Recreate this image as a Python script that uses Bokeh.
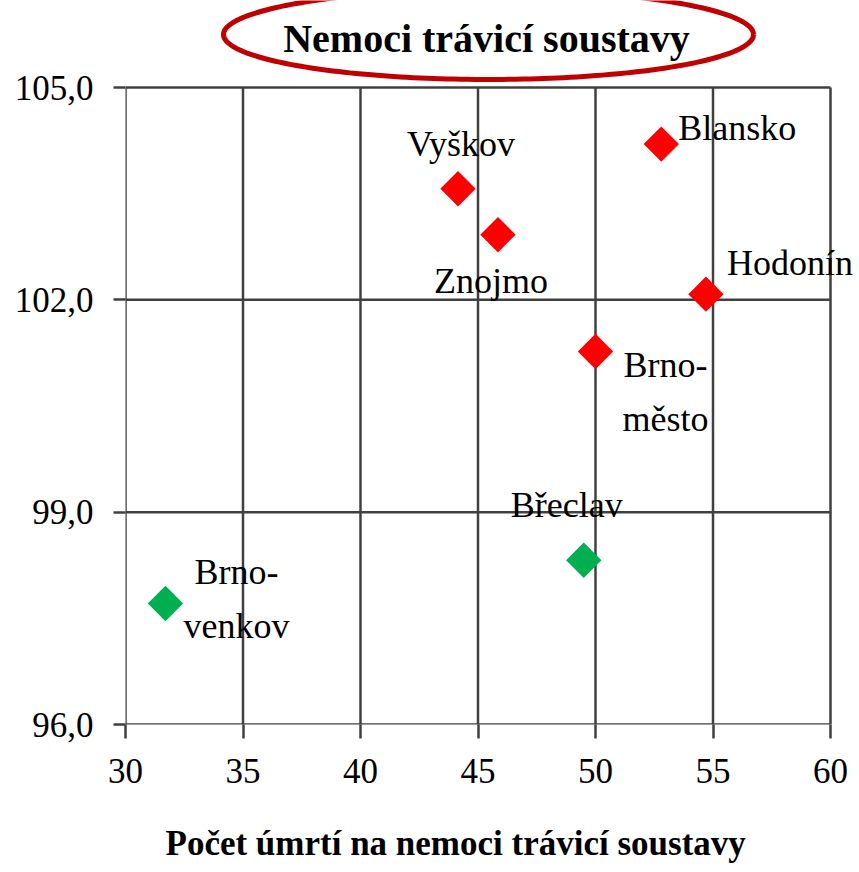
import math
from bokeh.plotting import figure
from bokeh.models import ColumnDataSource, FixedTicker, Range1d, Title
from bokeh.core.properties import value
from bokeh.transform import factor_cmap
from bokeh.embed import file_html
from bokeh.resources import INLINE

# ---- data ----
districts = ["Blansko", "Brno-\nměsto", "Brno-\nvenkov", "Břeclav", "Hodonín", "Vyškov", "Znojmo"]
deaths = [52.8, 50.0, 31.7, 49.5, 54.7, 44.15, 45.85]
index_vals = [104.2, 101.27, 97.71, 98.32, 102.08, 103.57, 102.92]
group = ["nad", "nad", "pod", "pod", "nad", "nad", "nad"]
x_ticks = [30, 35, 40, 45, 50, 55, 60]
y_ticks = [96, 99, 102, 105]
y_tick_labels = ["96,0", "99,0", "102,0", "105,0"]
title_text = "Nemoci trávicí soustavy"
x_title = "Počet úmrtí na nemoci trávicí soustavy"

# ---- layout / style ----
label_dx = {"Blansko": 76, "Brno-\nměsto": 70, "Brno-\nvenkov": 71, "Břeclav": -17,
            "Hodonín": 84, "Vyškov": 3, "Znojmo": -7}
label_dy = {"Blansko": -16, "Brno-\nměsto": 40, "Brno-\nvenkov": -4, "Břeclav": -55,
            "Hodonín": -31, "Vyškov": -45, "Znojmo": 46}
LINE_H = 54
SERIF = "Liberation Serif"
GRID = "#404040"
PLOT_W, PLOT_H = 705, 637          # visible plot box (30..60 x 96..105)
LEFT, TOP, RIGHT, BOTTOM = 125, 87, 27, 147   # canvas space around the box
X0, X1 = min(x_ticks), max(x_ticks)
Y0, Y1 = min(y_ticks), max(y_ticks)
sx = PLOT_W / (X1 - X0)
sy = PLOT_H / (Y1 - Y0)

def px_to_x(px):   # canvas px -> data x
    return X0 + (px - LEFT) / sx

def py_to_y(py):   # canvas py -> data y
    return Y0 + (TOP + PLOT_H - py) / sy

# label lines (each line centred separately)
lx, ly, ltxt, ldx, ldy = [], [], [], [], []
for d, xv, yv in zip(districts, deaths, index_vals):
    lines = d.split("\n")
    n = len(lines)
    for i, ln in enumerate(lines):
        lx.append(xv); ly.append(yv); ltxt.append(ln)
        ldx.append(label_dx[d]); ldy.append(label_dy[d] + (i - (n - 1) / 2) * LINE_H)

pts = ColumnDataSource(dict(x=deaths, y=index_vals, grp=group))
labs = ColumnDataSource(dict(x=lx, y=ly, t=ltxt, dx=ldx, dy=ldy))

p = figure(frame_width=PLOT_W + RIGHT, frame_height=PLOT_H + TOP,
           min_border_left=LEFT, min_border_right=0, min_border_top=0, min_border_bottom=BOTTOM,
           x_range=Range1d(X0, px_to_x(LEFT + PLOT_W + RIGHT)),
           y_range=Range1d(Y0, py_to_y(0)),
           output_backend="svg", toolbar_location=None)
p.background_fill_color = "white"
p.border_fill_color = "white"
p.outline_line_color = None
p.grid.visible = False

p.xaxis.ticker = FixedTicker(ticks=x_ticks)
p.yaxis.ticker = FixedTicker(ticks=y_ticks)
p.yaxis.major_label_overrides = {t: l for t, l in zip(y_ticks, y_tick_labels)}
for ax in (p.xaxis[0], p.yaxis[0]):
    ax.axis_line_color = None
    ax.major_tick_line_color = GRID
    ax.major_tick_line_width = 2.5
    ax.major_tick_in = 0
    ax.minor_tick_line_color = None
    ax.major_label_text_font = SERIF
    ax.major_label_text_font_size = "35px"
    ax.major_label_text_color = "black"
p.xaxis.major_tick_out = 14
p.xaxis.major_label_standoff = 20
p.yaxis.major_tick_out = 12
p.yaxis.major_label_standoff = 20

p.add_layout(Title(text=x_title, align="left", offset=40, standoff=72,
                   text_font=SERIF, text_font_size="35px", text_font_style="bold",
                   text_color="black"), "below")

# grid lines from the tick lists (also form the box)
p.segment(x0=x_ticks, y0=[Y0] * len(x_ticks), x1=x_ticks, y1=[Y1] * len(x_ticks),
          line_color=GRID, line_width=2.5)
p.segment(x0=[X0] * len(y_ticks), y0=y_ticks, x1=[X1] * len(y_ticks), y1=y_ticks,
          line_color=GRID, line_width=2.5)

p.scatter("x", "y", source=pts, marker="square", angle=math.pi / 4, size=25,
          line_color=None,
          fill_color=factor_cmap("grp", palette=["#FF0000", "#00B050"], factors=["nad", "pod"]))

p.text("x", "y", text="t", source=labs, x_offset="dx", y_offset="dy",
       text_font=value(SERIF), text_font_size="36px", text_align="center",
       text_baseline="middle", text_color="black")

# title with the red ellipse (decoration drawn as a closed outline in pixel geometry)
ecx, ecy, ea, eb = 488, 34, 265, 45
ts = [2 * math.pi * i / 240 for i in range(241)]
p.line(x=[px_to_x(ecx + ea * math.cos(t)) for t in ts],
       y=[py_to_y(ecy + eb * math.sin(t)) for t in ts],
       line_color="#C00000", line_width=5, line_join="round")
p.text(x=[px_to_x(486)], y=[py_to_y(38)], text=[title_text],
       text_font=value(SERIF), text_font_size="40px", text_font_style="bold",
       text_align="center", text_baseline="middle", text_color="black")

open("out.html", "w").write(file_html(p, INLINE))
